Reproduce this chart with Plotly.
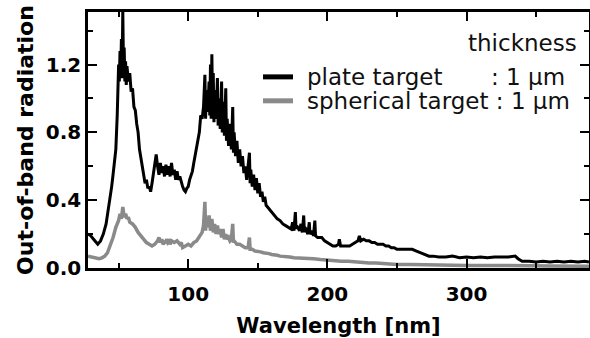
import plotly.graph_objects as go

# Out-of-band radiation spectra (arbitrary units) vs. wavelength in nm
plate_nm = [
    28, 30, 32, 34, 35, 37, 39, 41, 43, 44, 45, 46, 47, 48, 49, 50, 50.5, 51, 51.5, 52,
    52.5, 53, 53.5, 54, 54.5, 55, 55.5, 56, 57, 58, 59, 60, 61, 62, 63, 64, 65, 66, 67, 68,
    69, 70, 71, 72, 73, 74, 75, 76, 77, 78, 79, 80, 81, 82, 83, 84, 85, 86, 87, 88,
    89, 90, 91, 92, 93, 94, 95, 96, 97, 98, 99, 100, 101, 102, 103, 104, 105, 106, 107, 108,
    109, 110, 111, 112, 112.5, 113, 114, 115, 115.5, 116, 116.5, 117, 117.5, 118, 118.5, 119, 120, 121, 121.5, 122,
    123, 124, 124.5, 125, 126, 127, 127.5, 128, 129, 130, 131, 132, 132.5, 133, 134, 135, 136, 137, 138, 139,
    140, 141, 142, 143, 144, 144.5, 145, 146, 147, 148, 149, 150, 151, 152, 153, 154, 155, 156, 158, 160,
    162, 164, 166, 168, 170, 172, 174, 175, 176, 177, 177.5, 178, 180, 181, 182, 183, 183.5, 184, 186, 187,
    187.5, 189, 190, 191, 191.5, 193, 196, 198, 200, 202, 204, 206, 208, 208.6, 209.5, 212, 214, 216, 218, 220,
    222, 223, 224, 226, 228, 230, 232, 234, 236, 238, 240, 242, 244, 246, 248, 250, 252, 255, 258, 261,
    264, 267, 270, 273, 276, 280, 285, 290, 295, 300, 305, 310, 315, 320, 325, 330, 335, 337, 340, 345,
    350, 355, 360, 365, 370, 375, 380, 385, 388,
]
plate_val = [
    0.20, 0.19, 0.17, 0.15, 0.14, 0.16, 0.20, 0.26, 0.36, 0.42, 0.48, 0.55, 0.64, 0.70, 0.90, 1.20, 1.10, 1.28, 1.15, 1.35,
    1.12, 1.52, 1.18, 1.30, 1.10, 1.22, 1.08, 1.19, 1.10, 1.15, 1.04, 1.06, 0.95, 0.93, 0.85, 0.80, 0.70, 0.65, 0.58, 0.55,
    0.50, 0.52, 0.47, 0.48, 0.45, 0.50, 0.56, 0.62, 0.67, 0.60, 0.55, 0.62, 0.56, 0.60, 0.54, 0.61, 0.55, 0.60, 0.54, 0.62,
    0.55, 0.58, 0.52, 0.57, 0.52, 0.54, 0.50, 0.48, 0.46, 0.45, 0.47, 0.48, 0.52, 0.55, 0.57, 0.62, 0.66, 0.72, 0.76, 0.80,
    0.90, 0.88, 0.95, 1.14, 0.88, 1.05, 0.92, 1.10, 0.90, 1.20, 0.88, 1.26, 0.95, 1.15, 0.86, 1.05, 0.88, 1.12, 0.84, 1.00,
    0.82, 1.10, 0.80, 0.98, 0.78, 1.06, 0.75, 0.88, 0.72, 0.85, 0.70, 0.95, 0.68, 0.80, 0.66, 0.75, 0.62, 0.70, 0.60, 0.66,
    0.56, 0.60, 0.52, 0.62, 0.68, 0.50, 0.58, 0.48, 0.55, 0.46, 0.53, 0.44, 0.50, 0.42, 0.45, 0.39, 0.42, 0.37, 0.35, 0.33,
    0.31, 0.29, 0.28, 0.26, 0.25, 0.24, 0.23, 0.27, 0.22, 0.33, 0.23, 0.25, 0.22, 0.26, 0.21, 0.31, 0.21, 0.24, 0.20, 0.27,
    0.20, 0.22, 0.19, 0.28, 0.19, 0.18, 0.18, 0.16, 0.15, 0.14, 0.13, 0.13, 0.14, 0.17, 0.13, 0.13, 0.13, 0.13, 0.14, 0.15,
    0.16, 0.19, 0.16, 0.17, 0.16, 0.16, 0.15, 0.15, 0.14, 0.14, 0.14, 0.13, 0.13, 0.12, 0.12, 0.11, 0.11, 0.11, 0.11, 0.11,
    0.10, 0.09, 0.08, 0.07, 0.07, 0.065, 0.065, 0.07, 0.06, 0.065, 0.06, 0.065, 0.06, 0.065, 0.065, 0.065, 0.07, 0.055, 0.04, 0.04,
    0.035, 0.04, 0.035, 0.04, 0.035, 0.04, 0.035, 0.04, 0.035,
]

sphere_nm = [
    28, 30, 32, 34, 36, 38, 40, 42, 44, 46, 48, 50, 51, 52, 53, 54, 55, 56, 57, 58,
    60, 62, 64, 66, 68, 70, 72, 74, 76, 78, 79, 80, 81, 82, 84, 85, 86, 87, 88, 90,
    92, 94, 95, 96, 98, 100, 102, 104, 106, 108, 110, 111, 112, 112.5, 113, 114, 115, 116, 117, 118,
    119, 120, 121, 122, 123, 124, 125, 126, 127, 128, 129, 130, 131, 132, 132.5, 133, 135, 137, 139, 141,
    143, 144, 144.5, 146, 148, 150, 152, 154, 156, 158, 160, 162, 164, 166, 168, 170, 173, 176, 180, 185,
    190, 195, 200, 205, 210, 215, 220, 225, 230, 235, 240, 250, 260, 280, 300, 320, 340, 360, 388,
]
sphere_val = [
    0.07, 0.065, 0.06, 0.055, 0.055, 0.06, 0.07, 0.09, 0.13, 0.18, 0.24, 0.28, 0.32, 0.29, 0.36, 0.30, 0.32, 0.29, 0.30, 0.27,
    0.26, 0.24, 0.21, 0.19, 0.17, 0.15, 0.14, 0.13, 0.14, 0.16, 0.18, 0.15, 0.17, 0.14, 0.16, 0.15, 0.17, 0.14, 0.16, 0.15,
    0.16, 0.14, 0.15, 0.12, 0.13, 0.14, 0.13, 0.15, 0.16, 0.19, 0.21, 0.25, 0.39, 0.22, 0.30, 0.24, 0.31, 0.22, 0.29, 0.21,
    0.26, 0.20, 0.25, 0.20, 0.23, 0.18, 0.23, 0.17, 0.20, 0.17, 0.18, 0.16, 0.17, 0.26, 0.15, 0.16, 0.14, 0.14, 0.13, 0.12,
    0.12, 0.18, 0.11, 0.11, 0.10, 0.10, 0.095, 0.09, 0.09, 0.085, 0.08, 0.08, 0.075, 0.07, 0.07, 0.065, 0.065, 0.06, 0.06, 0.06,
    0.055, 0.05, 0.045, 0.04, 0.04, 0.04, 0.035, 0.035, 0.03, 0.03, 0.025, 0.02, 0.02, 0.015, 0.015, 0.015, 0.012, 0.012, 0.01,
]

x_ticks = [100, 200, 300]
y_ticks = [0.0, 0.4, 0.8, 1.2]
y_tick_text = ["0.0", "0.4", "0.8", "1.2"]

BLACK = "#000000"
GRAY = "#8a8a8a"

# plot-area geometry in pixels (figure is 590 x 338)
L, R, T, B = 88, 589, 12, 268.5
W_PX, H_PX = R - L, B - T


def px(xp):
    return (xp - L) / W_PX


def py(yp):
    return (B - yp) / H_PX


fig = go.Figure()
fig.add_trace(go.Scatter(x=sphere_nm, y=sphere_val, mode="lines",
                         line=dict(color=GRAY, width=3.5), showlegend=False))
fig.add_trace(go.Scatter(x=plate_nm, y=plate_val, mode="lines",
                         line=dict(color=BLACK, width=3), showlegend=False))

axis_common = dict(
    showline=True, linecolor=BLACK, linewidth=2.5, mirror="allticks",
    ticks="inside", tickcolor=BLACK, tickwidth=2, ticklen=9,
    showgrid=False, zeroline=False,
    tickfont=dict(family="DejaVu Sans", size=20, color=BLACK, weight="bold"),
)

fig.update_xaxes(
    range=[28, 388], tickvals=x_ticks,
    minor=dict(dtick=50, tick0=0, ticks="inside", ticklen=5, tickwidth=2, tickcolor=BLACK),
    title=dict(text="Wavelength [nm]", standoff=15,
               font=dict(family="DejaVu Sans", size=21, color=BLACK, weight="bold")),
    ticklabelstandoff=6,
    **axis_common,
)
fig.update_yaxes(
    range=[0, 1.51], tickvals=y_ticks, ticktext=y_tick_text,
    minor=dict(dtick=0.2, tick0=0, ticks="inside", ticklen=5, tickwidth=2, tickcolor=BLACK),
    title=dict(text="Out-of-band radiation", standoff=7,
               font=dict(family="DejaVu Sans", size=22, color=BLACK, weight="bold")),
    ticklabelstandoff=0,
    **axis_common,
)

legend_font = dict(family="DejaVu Sans", size=23, color="#111111")
fig.add_annotation(x=px(579), y=py(43), xref="paper", yref="paper", text="thickness",
                   showarrow=False, xanchor="right", yanchor="middle", font=legend_font)
fig.add_annotation(x=px(305), y=py(77), xref="paper", yref="paper", text="plate target",
                   showarrow=False, xanchor="left", yanchor="middle", font=legend_font)
fig.add_annotation(x=px(567), y=py(77), xref="paper", yref="paper", text=": 1 µm",
                   showarrow=False, xanchor="right", yanchor="middle", font=legend_font)
fig.add_annotation(x=px(305), y=py(101), xref="paper", yref="paper", text="spherical target : 1 µm",
                   showarrow=False, xanchor="left", yanchor="middle", font=legend_font)
fig.add_shape(type="line", xref="paper", yref="paper", x0=px(263), x1=px(293), y0=py(77), y1=py(77),
              line=dict(color=BLACK, width=5))
fig.add_shape(type="line", xref="paper", yref="paper", x0=px(263), x1=px(293), y0=py(101), y1=py(101),
              line=dict(color=GRAY, width=5))

fig.update_layout(
    width=590, height=338,
    margin=dict(l=L, r=590 - R, t=T, b=338 - B, autoexpand=False),
    paper_bgcolor="white", plot_bgcolor="white",
    font=dict(family="DejaVu Sans", color=BLACK),
)

fig.write_html("out.html")
